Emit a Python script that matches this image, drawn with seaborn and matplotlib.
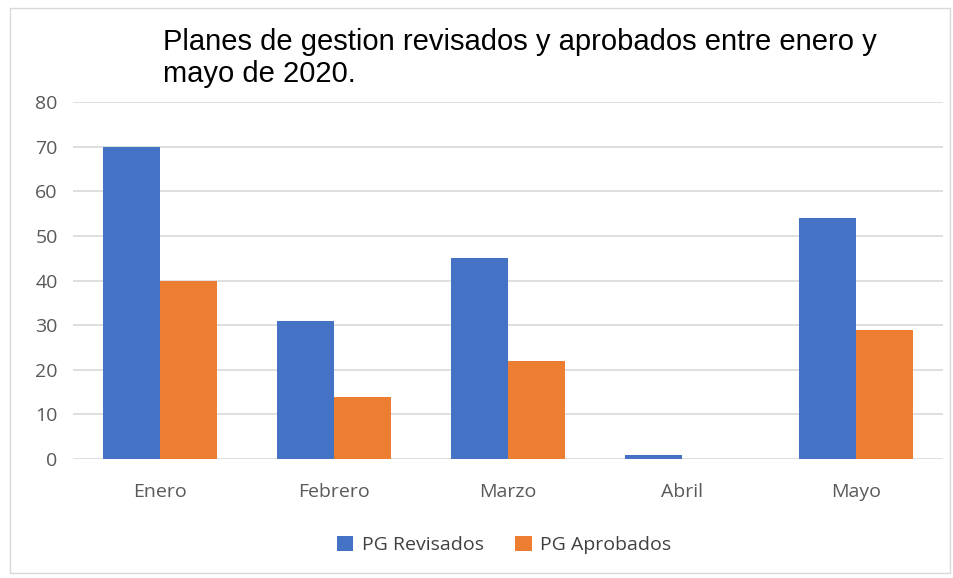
import matplotlib
matplotlib.use("Agg")
import matplotlib.pyplot as plt
import seaborn as sns
import pandas as pd
from matplotlib.patches import Rectangle, Patch

months = ["Enero", "Febrero", "Marzo", "Abril", "Mayo"]
revisados = [70, 31, 45, 1, 54]
aprobados = [40, 14, 22, 0, 29]
series_names = ["PG Revisados", "PG Aprobados"]
colors = ["#4472C4", "#ED7D31"]
title = "Planes de gestion revisados y aprobados entre enero y\nmayo de 2020."

df = pd.DataFrame({
    "Mes": months * 2,
    "Valor": revisados + aprobados,
    "Serie": [series_names[0]] * len(months) + [series_names[1]] * len(months),
})

sns.set_theme(style="white")
plt.rcParams["font.family"] = ["Open Sans", "DejaVu Sans"]

fig = plt.figure(figsize=(9.54, 5.78), dpi=100)
ax = fig.add_axes([73/954, 1-459/578, (943-73)/954, (459-102)/578])

sns.barplot(data=df, x="Mes", y="Valor", hue="Serie", palette=colors,
            width=0.66, gap=0, saturation=1, ax=ax, legend=False)
for p in ax.patches:
    p.set_linewidth(0)

ax.set_ylim(0, 80)
ax.set_xlim(-0.5, 4.5)
ax.set_yticks(range(0, 81, 10))
ax.grid(axis="y", color="#D9D9D9", linewidth=1.2)
ax.set_axisbelow(True)
for s in ax.spines.values():
    s.set_visible(False)
ax.set_xlabel("")
ax.set_ylabel("")
ax.tick_params(axis="both", length=0, labelsize=14, colors="#595959")
ax.tick_params(axis="y", pad=11)
ax.tick_params(axis="x", pad=17)

fig.text(163/954, 1-28/578, title, ha="left", va="top", fontsize=21,
         family=["Liberation Sans", "DejaVu Sans"], color="#000000", linespacing=1.2)

handles = [Patch(facecolor=c, edgecolor="none") for c in colors]
fig.legend(handles, series_names, loc="center", bbox_to_anchor=(504/954, 1-545/578),
           ncol=2, frameon=False, fontsize=14, handlelength=0.85, handleheight=0.85,
           columnspacing=1.6, handletextpad=0.45, labelcolor="#404040")

fig.patches.append(Rectangle((10/954, 1-573/578), 940/954, 565/578, transform=fig.transFigure,
                             fill=False, edgecolor="#D9D9D9", linewidth=1))

fig.savefig("out.png", dpi=100)
